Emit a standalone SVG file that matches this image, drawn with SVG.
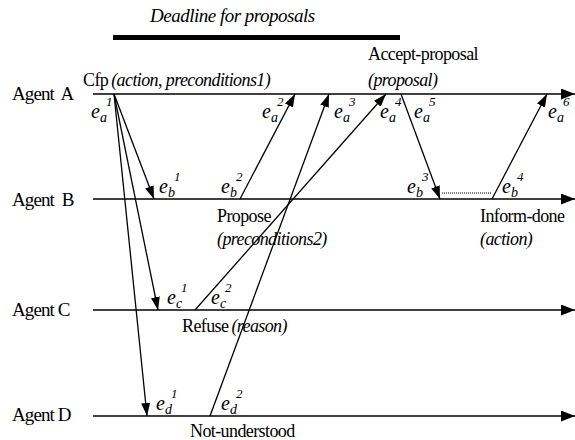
<svg xmlns="http://www.w3.org/2000/svg" width="575" height="440" viewBox="0 0 575 440" font-family="'Liberation Serif', 'Times New Roman', serif">
<style>
text{font-family:"Liberation Serif","Times New Roman",serif;fill:#000;letter-spacing:-0.6px}
.lab{font-size:18px}
.it{font-style:italic}
.ag{font-size:19px;letter-spacing:-0.9px}
.ev{font-size:20px;font-style:italic;letter-spacing:0}
.sub{font-size:14px}
.sup{font-size:13px}
.tl{stroke:#000;stroke-width:1.5;fill:none;marker-end:url(#big)}
.msg{stroke:#000;stroke-width:1.3;fill:none;marker-end:url(#ah)}
</style>
<defs>
<marker id="ah" markerUnits="userSpaceOnUse" markerWidth="14" markerHeight="10" refX="13" refY="4.5" orient="auto">
<path d="M0,0 L13,4.5 L0,9 z" fill="#000"/>
</marker>
<marker id="big" markerUnits="userSpaceOnUse" markerWidth="16" markerHeight="12" refX="14" refY="5.5" orient="auto">
<path d="M0,0 L14,5.5 L0,11 z" fill="#000"/>
</marker>
</defs>

<g id="deadline">
<text class="lab it" x="150" y="22" style="font-size:19px;letter-spacing:-0.5px">Deadline for proposals</text>
<rect x="113" y="35" width="287" height="5" fill="#000"/>
</g>

<g id="agentA">
<text class="ag" x="12" y="100" xml:space="preserve">Agent  A</text>
</g>
<g id="agentB">
<text class="ag" x="12" y="206" xml:space="preserve">Agent  B</text>
</g>
<g id="agentC">
<text class="ag" x="12" y="316">Agent C</text>
</g>
<g id="agentD">
<text class="ag" x="12" y="421">Agent D</text>
</g>

<g id="connectors">
<line class="tl" x1="93" y1="94" x2="575" y2="94"/>
<line class="tl" x1="93" y1="199" x2="575" y2="199"/>
<line class="tl" x1="93" y1="310" x2="575" y2="310"/>
<line class="tl" x1="93" y1="416" x2="575" y2="416"/>
<line class="msg" x1="114" y1="94" x2="154" y2="199"/>
<line class="msg" x1="114" y1="94" x2="158" y2="310"/>
<line class="msg" x1="114" y1="94" x2="147" y2="416"/>
<line class="msg" x1="240" y1="199" x2="295" y2="94"/>
<line class="msg" x1="210" y1="416" x2="329" y2="94"/>
<line class="msg" x1="195" y1="310" x2="386" y2="94"/>
<line class="msg" x1="401" y1="94" x2="440" y2="199"/>
<line class="msg" x1="492" y1="199" x2="547" y2="94"/>
<line x1="442" y1="193" x2="491" y2="193" stroke="#000" stroke-width="1" stroke-dasharray="1,1"/>
</g>

<g id="labels">
<text class="lab" x="83" y="86">Cfp<tspan class="it" dx="3">(action, preconditions1)</tspan></text>
<text class="lab" x="368" y="60">Accept-proposal</text>
<text class="lab it" x="368" y="86">(proposal)</text>
<text class="lab" x="217" y="222">Propose</text>
<text class="lab it" x="217" y="245">(preconditions2)</text>
<text class="lab" x="480" y="222">Inform-done</text>
<text class="lab it" x="480" y="245">(action)</text>
<text class="lab" x="182" y="332">Refuse<tspan class="it" dx="3">(reason)</tspan></text>
<text class="lab" x="190" y="437">Not-understood</text>
</g>

<g id="events">
<text class="ev" x="91" y="118">e<tspan class="sub" dy="4">a</tspan><tspan class="sup" dx="-1" dy="-16">1</tspan></text>
<text class="ev" x="262" y="118">e<tspan class="sub" dy="4">a</tspan><tspan class="sup" dx="-1" dy="-16">2</tspan></text>
<text class="ev" x="334" y="118">e<tspan class="sub" dy="4">a</tspan><tspan class="sup" dx="-1" dy="-16">3</tspan></text>
<text class="ev" x="380" y="118">e<tspan class="sub" dy="4">a</tspan><tspan class="sup" dx="-1" dy="-16">4</tspan></text>
<text class="ev" x="414" y="118">e<tspan class="sub" dy="4">a</tspan><tspan class="sup" dx="-1" dy="-16">5</tspan></text>
<text class="ev" x="548" y="118">e<tspan class="sub" dy="4">a</tspan><tspan class="sup" dx="-1" dy="-16">6</tspan></text>
<text class="ev" x="159" y="193">e<tspan class="sub" dy="4">b</tspan><tspan class="sup" dx="-1" dy="-16">1</tspan></text>
<text class="ev" x="221" y="193">e<tspan class="sub" dy="4">b</tspan><tspan class="sup" dx="-1" dy="-16">2</tspan></text>
<text class="ev" x="407" y="193">e<tspan class="sub" dy="4">b</tspan><tspan class="sup" dx="-1" dy="-16">3</tspan></text>
<text class="ev" x="502" y="193">e<tspan class="sub" dy="4">b</tspan><tspan class="sup" dx="-1" dy="-16">4</tspan></text>
<text class="ev" x="167" y="304">e<tspan class="sub" dy="4">c</tspan><tspan class="sup" dx="-1" dy="-16">1</tspan></text>
<text class="ev" x="211" y="304">e<tspan class="sub" dy="4">c</tspan><tspan class="sup" dx="-1" dy="-16">2</tspan></text>
<text class="ev" x="156" y="410">e<tspan class="sub" dy="4">d</tspan><tspan class="sup" dx="-1" dy="-16">1</tspan></text>
<text class="ev" x="221" y="410">e<tspan class="sub" dy="4">d</tspan><tspan class="sup" dx="-1" dy="-16">2</tspan></text>
</g>
</svg>
